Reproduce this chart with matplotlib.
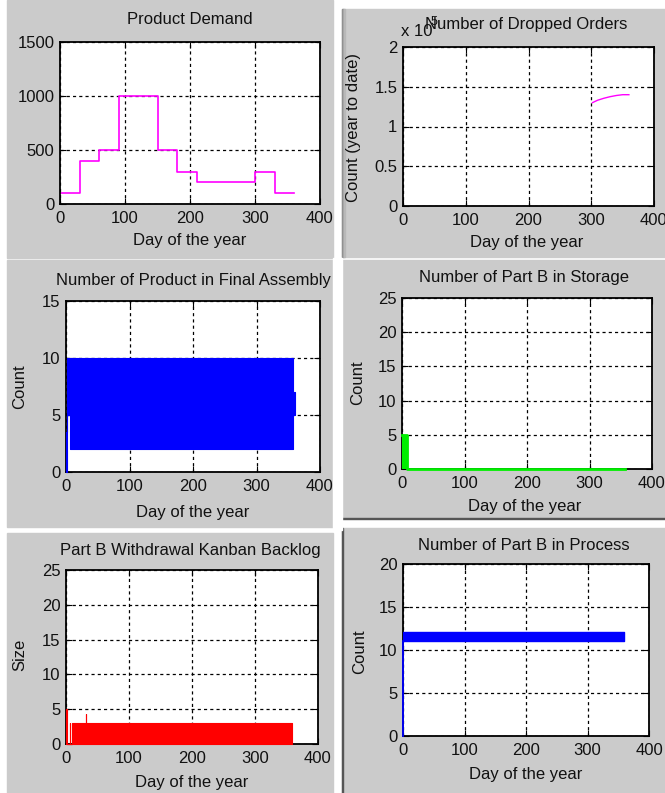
import matplotlib
matplotlib.use('Agg')
import matplotlib.pyplot as plt
from matplotlib.patches import Rectangle
from matplotlib.ticker import FuncFormatter

plt.rcParams['font.family'] = ['Liberation Sans', 'DejaVu Sans']

W, H = 665, 793
TXT = '#111111'
GRAY = '#cbcbcb'

# --- data ---
demand_days = [0, 30, 60, 90, 150, 180, 210, 300, 330, 360]
demand_vals = [100, 400, 500, 1000, 500, 300, 200, 300, 100, 100]

dropped_days = [302, 310, 320, 330, 340, 350, 360]
dropped_vals = [130000, 133000, 135500, 137500, 139000, 140000, 140000]

# final assembly: min/max envelope of a fast oscillating count
fa_days = [0, 1, 2, 7, 358, 361]
fa_low = [0, 3.5, 5, 2, 5, 5]
fa_high = [3.5, 10, 10, 10, 7, 7]

storage_days = [0, 8, 357]
storage_vals = [5, 0, 0]

backlog_days = [0, 1, 2, 6, 7, 9, 31, 32, 358]
backlog_vals = [5, 3, 0, 3, 0, 3, 4.3, 3, 3]

process_days = [0, 360]
process_low = [11.1, 11.1]
process_high = [12.1, 12.1]


def px(l, r, t, b):
    return [l / W, 1 - b / H, (r - l) / W, (b - t) / H]


def ftext(x, y, s, **kw):
    kw.setdefault('fontsize', 12)
    kw.setdefault('color', TXT)
    kw.setdefault('ha', 'center')
    kw.setdefault('va', 'center')
    return fig.text(x / W, 1 - y / H, s, **kw)


def setup(ax, ylim, yticks):
    ax.set_xlim(0, 400)
    ax.set_xticks([0, 100, 200, 300, 400])
    ax.set_ylim(*ylim)
    ax.set_yticks(yticks)
    ax.grid(True, color='k', linestyle=(0, (2.5, 2.5)), linewidth=0.9)
    ax.set_axisbelow(True)
    ax.tick_params(direction='in', top=True, right=True, length=4, width=0.8,
                   labelsize=12, labelcolor=TXT)
    ax.tick_params(axis='x', pad=5)
    ax.tick_params(axis='y', pad=4)
    for s in ax.spines.values():
        s.set_linewidth(1.3)
        s.set_zorder(2.6)


fig = plt.figure(figsize=(W / 100, H / 100), dpi=100)
fig.patch.set_facecolor('white')

# gray panel backgrounds
for l, r, t, b in [(7, 333, 0, 258), (342, 665, 9, 257), (7, 333, 260, 527),
                   (342, 665, 260, 518), (7, 333, 533, 793), (342, 665, 528, 793)]:
    fig.add_artist(Rectangle((l / W, 1 - b / H), (r - l) / W, (b - t) / H,
                             transform=fig.transFigure, color=GRAY, zorder=-2))
# panel edges (shadow on the top-right shot, thin rules elsewhere)
for i, c in enumerate(['#8c8c8c', '#a4a4a4', '#b8b8b8']):
    fig.add_artist(Rectangle(((342 + i) / W, 1 - 257 / H), 1 / W, 248 / H,
                             transform=fig.transFigure, color=c, zorder=-1))
fig.add_artist(Rectangle((342 / W, 0), 1.5 / W, 265 / H,
                         transform=fig.transFigure, color='#555555', zorder=-1))
fig.add_artist(Rectangle((342 / W, 1 - 519 / H), 323 / W, 1.5 / H,
                         transform=fig.transFigure, color='#555555', zorder=-1))

# 1 Product Demand
ax1 = fig.add_axes(px(60, 320, 42, 204))
setup(ax1, (0, 1500), [0, 500, 1000, 1500])
ax1.step(demand_days, demand_vals, where='post', color='#ff00ff', lw=1.2)
ftext(190, 20, 'Product Demand')
ftext(190, 241, 'Day of the year')

# 2 Dropped Orders
ax2 = fig.add_axes(px(403, 654, 47, 206))
setup(ax2, (0, 200000), [0, 50000, 100000, 150000, 200000])
ax2.yaxis.set_major_formatter(FuncFormatter(lambda v, p: f'{v / 1e5:g}'))
ax2.plot(dropped_days, dropped_vals, color='#ff00ff', lw=1.0)
ftext(401, 31, 'x 10', ha='left')
ftext(431, 22, '5', ha='left', fontsize=9)
ftext(526, 25, 'Number of Dropped Orders')
ftext(527, 243, 'Day of the year')
ftext(353, 127, 'Count (year to date)', rotation=90)

# 3 Final Assembly
ax3 = fig.add_axes(px(66, 320, 301, 472))
setup(ax3, (0, 15), [0, 5, 10, 15])
ax3.fill_between(fa_days, fa_low, fa_high, step='post', color='#0000ff',
                 lw=0.8, edgecolor='#0000ff', zorder=3, clip_on=False)
ftext(193, 280, 'Number of Product in Final Assembly')
ftext(193, 513, 'Day of the year')
ftext(20, 387, 'Count', rotation=90)

# 4 Part B in Storage
ax4 = fig.add_axes(px(402, 652, 298, 469))
setup(ax4, (0, 25), [0, 5, 10, 15, 20, 25])
ax4.fill_between(storage_days, 0, storage_vals, step='post', color='#00ee00', lw=0, zorder=3)
ax4.step(storage_days, storage_vals, where='post', color='#00ee00', lw=2.0,
         zorder=3, clip_on=False)
ftext(524, 277, 'Number of Part B in Storage')
ftext(525, 507, 'Day of the year')
ftext(358, 383, 'Count', rotation=90)

# 5 Kanban Backlog
ax5 = fig.add_axes(px(66, 318, 570, 744))
setup(ax5, (0, 25), [0, 5, 10, 15, 20, 25])
ax5.fill_between(backlog_days, 0, backlog_vals, step='post', color='#ff0000',
                 lw=0.8, edgecolor='#ff0000', zorder=3, clip_on=False)
ftext(190, 550, 'Part B Withdrawal Kanban Backlog')
ftext(192, 782, 'Day of the year')
ftext(20, 655, 'Size', rotation=90)

# 6 Part B in Process
ax6 = fig.add_axes(px(403, 649, 564, 736))
setup(ax6, (0, 20), [0, 5, 10, 15, 20])
ax6.fill_between(process_days, process_low, process_high, color='#0000ff',
                 lw=1.0, edgecolor='#0000ff', zorder=3)
ax6.plot([process_days[0], process_days[0]], [0, process_low[0]], color='#0000ff',
         lw=1.3, zorder=3, clip_on=False)
ftext(524, 545, 'Number of Part B in Process')
ftext(526, 775, 'Day of the year')
ftext(360, 652, 'Count', rotation=90)

# white gap between the left and right screenshots clips the long title
fig.add_artist(Rectangle((333 / W, 1 - 530 / H), 9 / W, 272 / H,
                         transform=fig.transFigure, color='white', zorder=10))

fig.savefig('out.png', dpi=100, facecolor='white')
